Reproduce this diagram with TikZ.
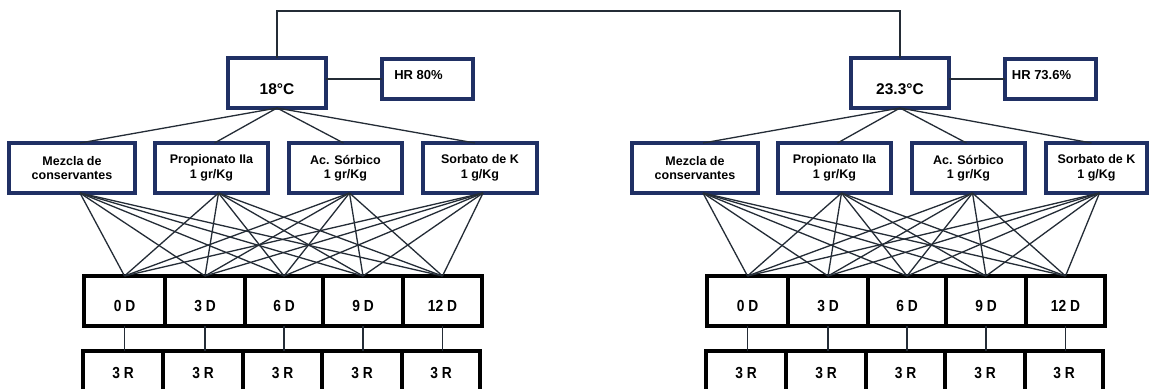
\documentclass[tikz,border=0pt]{standalone}
\usepackage{fontspec}
\setmainfont{Liberation Sans}
\newfontfamily\condfont{Liberation Sans}[FakeStretch=0.86]
\definecolor{navy}{RGB}{32,48,100}
\definecolor{linkc}{RGB}{36,44,54}
\tikzset{
  navybox/.style={draw=navy, line width=3.2pt, fill=white, inner sep=0pt, outer sep=0pt, align=center, font=\bfseries\fontsize{12.5}{14.5}\selectfont},
  tempbox/.style={navybox, minimum width=98, minimum height=50, font=\bfseries\fontsize{15.5}{17}\selectfont},
  hrbox/.style={navybox, minimum width=91, minimum height=40, font=\bfseries\fontsize{13}{15}\selectfont},
  treatbox/.style={navybox, minimum height=50},
  daybox/.style={draw=black, line width=3.6pt, fill=white, inner sep=0pt, outer sep=0pt, minimum height=50, font=\condfont\bfseries\fontsize{16}{18}\selectfont},
  repbox/.style={daybox, minimum height=46},
  link/.style={draw=linkc, line width=1.4pt},
  fan/.style={draw=linkc, line width=1.3pt},
  vlink/.style={draw=linkc, line width=1.1pt}
}
\newcommand{\Lower}[1]{\raisebox{-5pt}[\height][\depth]{#1}}
\newcommand{\Upr}[1]{\raisebox{1pt}[\height][\depth]{#1}}
% #1 prefix, #2 xshift, #3 temp, #4 hr, #5 sorbato center, #6 sorbato width
\newcommand{\Grp}[6]{%
\begin{scope}[xshift=#2pt]
  \node[tempbox] (#1T) at (277,83) {\raisebox{-6pt}[\height][\depth]{#3}};
  \node[hrbox] (#1H) at (427.5,79) {\hspace*{-18pt}\raisebox{4pt}[\height][\depth]{#4}};
  \node[treatbox, minimum width=126] (#1A) at (72,168) {Mezcla de\\conservantes};
  \node[treatbox, minimum width=113] (#1B) at (211.5,168) {Propionato IIa\\1 gr/Kg};
  \node[treatbox, minimum width=113] (#1C) at (345.5,168) {Ac. Sórbico\\1 gr/Kg};
  \node[treatbox, minimum width=#6] (#1E) at (#5,168) {Sorbato de K\\1 g/Kg};
  \node[daybox, minimum width=81] (#1D1) at (124.5,301) {\Lower{0 D}};
  \node[daybox, minimum width=80] (#1D2) at (205,301) {\Lower{3 D}};
  \node[daybox, minimum width=78] (#1D3) at (284,301) {\Lower{6 D}};
  \node[daybox, minimum width=80] (#1D4) at (363,301) {\Lower{9 D}};
  \node[daybox, minimum width=79] (#1D5) at (442.5,301) {\Lower{12 D}};
  \node[repbox, minimum width=80] (#1R1) at (123,374) {\Upr{3 R}};
  \node[repbox, minimum width=80] (#1R2) at (203,374) {\Upr{3 R}};
  \node[repbox, minimum width=79] (#1R3) at (282.5,374) {\Upr{3 R}};
  \node[repbox, minimum width=80] (#1R4) at (362,374) {\Upr{3 R}};
  \node[repbox, minimum width=78] (#1R5) at (441,374) {\Upr{3 R}};
\end{scope}
  \draw[link] (#1H.west) -- (#1H.west -| #1T.east);
  \foreach \t/\o in {A/8,B/3,C/-2,E/-5}
    \draw[fan] (#1T.south) -- ([xshift=\o pt]#1\t.north);
  \foreach \t/\o in {A/8,B/7,C/4,E/3}
    \foreach \d in {1,...,5}
      \draw[fan] ([xshift=\o pt]#1\t.south) -- (#1D\d.north);
  \foreach \d in {1,...,5}
    \draw[vlink] (#1D\d.south) -- (#1D\d.south |- #1R\d.north);
}
\begin{document}
\begin{tikzpicture}[x=1pt,y=-1pt]
  \useasboundingbox (0,0) rectangle (1150,388);
  \clip (0,0) rectangle (1150,388);
  \fill[white] (0,0) rectangle (1150,388);
  \Grp{L}{0}{18°C}{HR 80\%}{480}{114}
  \Grp{R}{623}{23.3°C}{HR 73.6\%}{473.5}{101}
  \coordinate (topline) at (0,11);
  \draw[link] (LT.north) |- (RT.north |- topline) -- (RT.north);
\end{tikzpicture}
\end{document}
